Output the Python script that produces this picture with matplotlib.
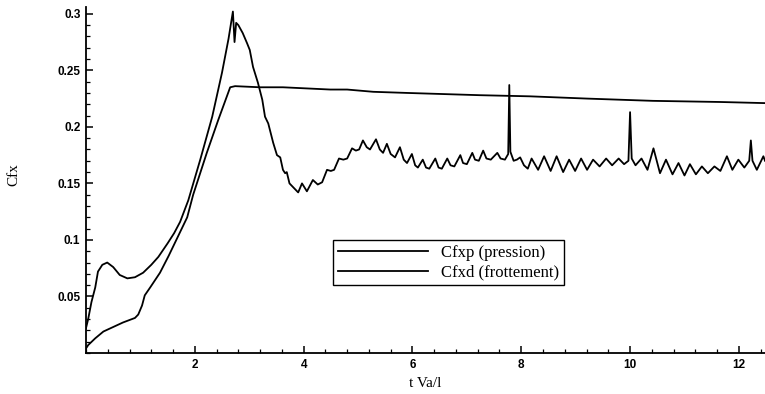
import numpy as np
import matplotlib
matplotlib.use('Agg')
import matplotlib.pyplot as plt
from matplotlib.ticker import MultipleLocator

# Cfxp (pression) : valeurs
t_press = [0.0, 0.04, 0.10, 0.17, 0.22, 0.30, 0.39, 0.50, 0.62, 0.76, 0.90, 1.05, 1.20, 1.33,
           1.50, 1.62, 1.73, 1.88, 2.10, 2.32, 2.50, 2.62, 2.70, 2.72, 2.73, 2.76, 2.80, 2.88,
           2.96, 3.01, 3.07, 3.16, 3.24, 3.29, 3.35, 3.44, 3.51, 3.57, 3.62, 3.66, 3.69, 3.74,
           3.82, 3.90, 3.97, 4.06, 4.17, 4.26, 4.34, 4.43, 4.50, 4.56, 4.65, 4.73, 4.80, 4.89,
           4.96, 5.02, 5.09, 5.16, 5.22, 5.33, 5.40, 5.46, 5.53, 5.60, 5.68, 5.77, 5.84, 5.90,
           5.99, 6.05, 6.10, 6.19, 6.25, 6.31, 6.42, 6.48, 6.54, 6.64, 6.70, 6.77, 6.88, 6.93,
           7.00, 7.10, 7.15, 7.22, 7.30, 7.36, 7.44, 7.56, 7.62, 7.70, 7.76, 7.78, 7.80, 7.86,
           7.92, 7.98, 8.05, 8.12, 8.19, 8.31, 8.42, 8.54, 8.65, 8.77, 8.88, 8.99, 9.10, 9.21,
           9.32, 9.44, 9.56, 9.67, 9.79, 9.89, 9.97, 10.00, 10.03, 10.10, 10.21, 10.32, 10.43,
           10.55, 10.66, 10.78, 10.89, 11.00, 11.10, 11.21, 11.32, 11.43, 11.55, 11.66, 11.78,
           11.88, 11.99, 12.10, 12.19, 12.22, 12.25, 12.33, 12.45, 12.48]
cfxp = [0.022, 0.030, 0.045, 0.058, 0.072, 0.078, 0.080, 0.076, 0.069, 0.066, 0.067, 0.071,
        0.078, 0.085, 0.097, 0.106, 0.116, 0.135, 0.171, 0.209, 0.248, 0.278, 0.302, 0.285,
        0.275, 0.292, 0.290, 0.283, 0.274, 0.268, 0.253, 0.239, 0.224, 0.209, 0.203, 0.186,
        0.175, 0.173, 0.162, 0.159, 0.160, 0.150, 0.146, 0.142, 0.150, 0.143, 0.153, 0.149,
        0.151, 0.162, 0.161, 0.162, 0.172, 0.171, 0.172, 0.181, 0.179, 0.180, 0.188, 0.182,
        0.180, 0.189, 0.180, 0.177, 0.185, 0.176, 0.173, 0.182, 0.171, 0.168, 0.176, 0.166,
        0.164, 0.171, 0.164, 0.163, 0.172, 0.164, 0.163, 0.172, 0.166, 0.165, 0.175, 0.168,
        0.167, 0.177, 0.171, 0.170, 0.179, 0.172, 0.171, 0.177, 0.172, 0.171, 0.176, 0.237,
        0.178, 0.170, 0.171, 0.173, 0.166, 0.163, 0.172, 0.162, 0.174, 0.161, 0.174, 0.160,
        0.171, 0.161, 0.172, 0.162, 0.171, 0.165, 0.172, 0.166, 0.172, 0.167, 0.170, 0.213,
        0.172, 0.166, 0.172, 0.162, 0.181, 0.159, 0.171, 0.158, 0.168, 0.157, 0.167, 0.158,
        0.165, 0.159, 0.165, 0.161, 0.174, 0.162, 0.171, 0.164, 0.170, 0.188, 0.170, 0.162,
        0.174, 0.170]

# Cfxd (frottement)
t_frot = [0.0, 0.04, 0.17, 0.32, 0.50, 0.68, 0.90, 0.96, 1.03, 1.08, 1.18, 1.36, 1.52, 1.70,
          1.86, 1.97, 2.22, 2.43, 2.65, 2.74, 3.20, 3.62, 4.49, 4.80, 5.28, 5.90, 7.24, 8.16,
          9.21, 10.42, 11.65, 12.48]
cfxd = [0.004, 0.007, 0.013, 0.019, 0.023, 0.027, 0.031, 0.034, 0.042, 0.051, 0.058, 0.071,
        0.086, 0.104, 0.120, 0.140, 0.177, 0.206, 0.235, 0.236, 0.235, 0.235, 0.233, 0.233,
        0.231, 0.230, 0.228, 0.227, 0.225, 0.223, 0.222, 0.221]

fig = plt.figure(figsize=(7.65, 3.94), dpi=100)
ax = fig.add_axes([86/765, 41/394, 679/765, 346/394])

ax.plot(t_press, cfxp, color='black', lw=1.3, label='Cfxp (pression)')
ax.plot(t_frot, cfxd, color='black', lw=1.3, label='Cfxd (frottement)')

ax.set_xlim(0, 12.48)
ax.set_ylim(0, 0.306)
ax.spines['top'].set_visible(False)
ax.spines['right'].set_visible(False)
ax.spines['left'].set_linewidth(1.3)
ax.spines['bottom'].set_linewidth(1.3)

ax.set_xticks([2, 4, 6, 8, 10, 12])
ax.set_yticks([0.05, 0.1, 0.15, 0.2, 0.25, 0.3])
ax.set_yticklabels(['0.05', '0.1', '0.15', '0.2', '0.25', '0.3'])
ax.xaxis.set_minor_locator(MultipleLocator(0.4))
ax.yaxis.set_minor_locator(MultipleLocator(0.01))
ax.tick_params(which='major', direction='in', length=5, width=1.1, pad=4)
ax.tick_params(which='minor', direction='in', length=3, width=0.9)
for lab in ax.get_xticklabels() + ax.get_yticklabels():
    lab.set_fontfamily('Liberation Sans')
    lab.set_fontweight('bold')
    lab.set_fontsize(8.5)

ax.set_xlabel('t Va/l', family='Liberation Serif', fontsize=11)
ax.set_ylabel('Cfx', family='Liberation Serif', fontsize=11)
ax.xaxis.set_label_coords(0.5, -0.07)
ax.yaxis.set_label_coords(-0.097, 0.515)

leg = ax.legend(loc='upper left', bbox_to_anchor=(333/765, 1 - 240/394),
                bbox_transform=fig.transFigure, borderaxespad=0, borderpad=0.3,
                handlelength=5.4, handletextpad=0.8, labelspacing=0.2,
                fancybox=False, framealpha=1, edgecolor='black',
                prop={'family': 'Liberation Serif', 'size': 12})
leg.get_frame().set_linewidth(1.0)

plt.savefig('out.png', dpi=100)
